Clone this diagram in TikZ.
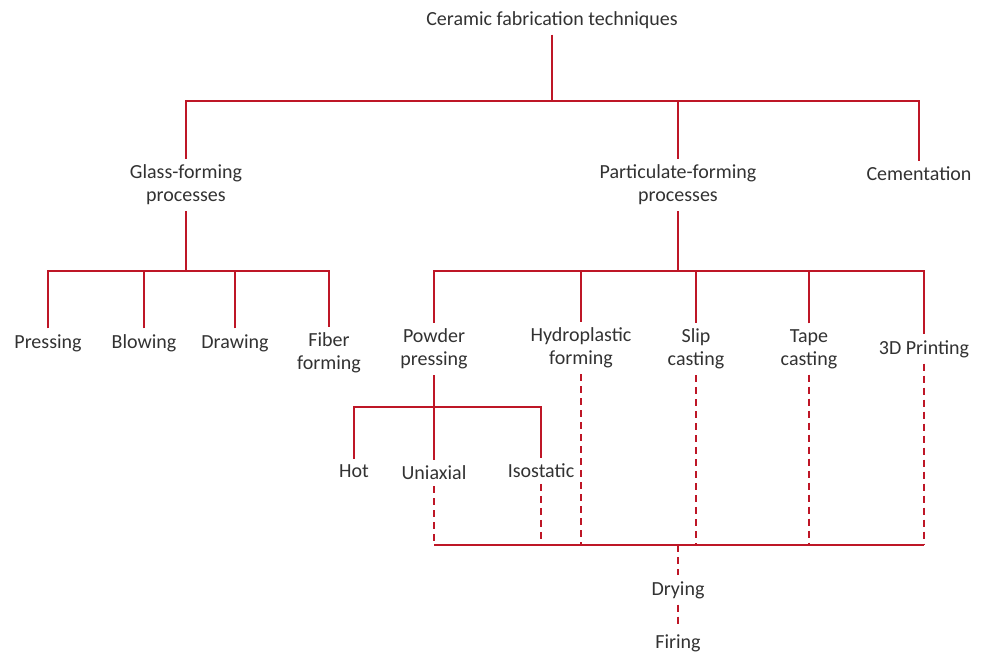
\documentclass[tikz,border=0pt]{standalone}
\usepackage{fontspec}
\setmainfont{Carlito}
\definecolor{linered}{RGB}{190,22,38}
\definecolor{txtgray}{RGB}{50,50,50}
\begin{document}
\begin{tikzpicture}[x=1pt,y=-1pt,
  lbl/.style={inner sep=0pt, outer sep=6pt, text=txtgray, font=\fontsize{20}{23}\selectfont, align=center},
  ln/.style={draw=linered, line width=2pt},
  dl/.style={draw=linered, line width=2pt, dash pattern=on 7pt off 5pt}]
\useasboundingbox (0,0) rectangle (984,655);
% nodes
\node[lbl] (title) at (552,20) {Ceramic fabrication techniques};
\node[lbl] (glass) at (186,185) {Glass-forming\\processes};
\node[lbl] (part) at (678,185) {Particulate-forming\\processes};
\node[lbl] (cem) at (919,174) {Cementation};
\node[lbl] (press) at (48,343) {Pressing};
\node[lbl] (blow) at (144,343) {Blowing};
\node[lbl] (drw) at (235,343) {Drawing};
\node[lbl] (fiber) at (329,353) {Fiber\\forming};
\node[lbl] (powder) at (434,349) {Powder\\pressing};
\node[lbl] (hydro) at (581,348) {Hydroplastic\\forming};
\node[lbl] (slip) at (696,349) {Slip\\casting};
\node[lbl] (tape) at (809,349) {Tape\\casting};
\node[lbl] (print) at (924,349) {3D Printing};
\node[lbl] (hot) at (354,471) {Hot};
\node[lbl] (uni) at (434,473) {Uniaxial};
\node[lbl] (iso) at (541,471) {Isostatic};
\node[lbl] (dry) at (678,590) {Drying};
\node[lbl] (fire) at (678,643) {Firing};
% junctions
\coordinate (b0) at (552,101);
\coordinate (b1) at (186,271);
\coordinate (b2) at (678,271);
\coordinate (b3) at (434,407);
\coordinate (b4) at (678,545);
% top level
\draw[ln] (title.south) -- (b0);
\draw[ln] (glass.north) |- (b0) -| (cem.north);
\draw[ln] (part.north) -- (part.north |- b0);
% glass-forming
\draw[ln] (glass.south) -- (b1);
\draw[ln] (press.north) |- (b1) -| (fiber.north);
\draw[ln] (blow.north) -- (blow.north |- b1);
\draw[ln] (drw.north) -- (drw.north |- b1);
% particulate-forming
\draw[ln] (part.south) -- (b2);
\draw[ln] (powder.north) |- (b2) -| (print.north);
\draw[ln] (hydro.north) -- (hydro.north |- b2);
\draw[ln] (slip.north) -- (slip.north |- b2);
\draw[ln] (tape.north) -- (tape.north |- b2);
% powder pressing
\draw[ln] (powder.south) -- (b3);
\draw[ln] (hot.north) |- (b3) -| (iso.north);
\draw[ln] (uni.north) -- (b3);
% collecting bus
\draw[ln] (uni.south |- b4) -- (print.south |- b4);
\draw[dl] (uni.south) -- (uni.south |- b4);
\draw[dl] (iso.south) -- (iso.south |- b4);
\draw[dl] (hydro.south) -- (hydro.south |- b4);
\draw[dl] (slip.south) -- (slip.south |- b4);
\draw[dl] (tape.south) -- (tape.south |- b4);
\draw[dl] (print.south) -- (print.south |- b4);
\draw[dl] (b4) -- (dry.north);
\draw[dl] (dry.south) -- (fire.north);
\end{tikzpicture}
\end{document}
